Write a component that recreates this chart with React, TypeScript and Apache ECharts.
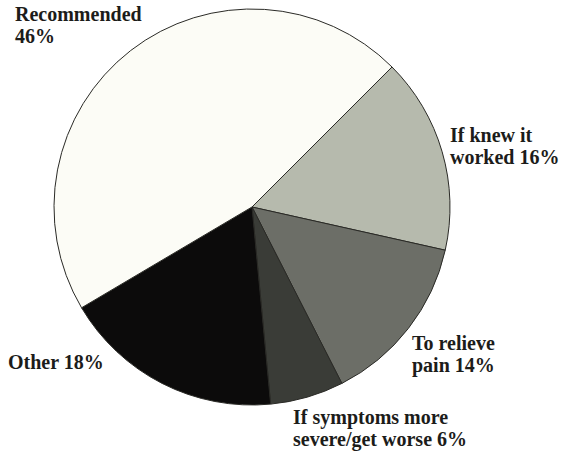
import React, { useEffect, useRef } from "react";
import * as echarts from "echarts";

// Reasons, listed clockwise from the upper-right edge of the pie
const categories = [
  "If knew it\nworked",
  "To relieve\npain",
  "If symptoms more\nsevere/get worse",
  "Other",
  "Recommended\n",
];
const shares = [16, 14, 6, 18, 46];
const sliceColors = ["#b6baad", "#6c6e67", "#3a3c37", "#0c0b0b", "#fcfcf6"];

// Label anchor points (top-left of each text block)
const labelAnchors: [number, number][] = [
  [450, 124],
  [412, 332],
  [293, 406],
  [8, 351],
  [15, 3],
];

export default function App() {
  const ref = useRef<HTMLDivElement>(null);

  useEffect(() => {
    document.body.style.margin = "0";
    const chart = echarts.init(ref.current!, null, { renderer: "svg" });
    chart.setOption({
      animation: false,
      backgroundColor: "#ffffff",
      series: [
        {
          type: "pie",
          center: [252, 207],
          radius: 198,
          startAngle: 45,
          clockwise: true,
          avoidLabelOverlap: false,
          data: categories.map((name, i) => ({
            name,
            value: shares[i],
            itemStyle: { color: sliceColors[i] },
          })),
          itemStyle: { borderColor: "#2a2a26", borderWidth: 1 },
          label: {
            show: true,
            position: "outside",
            formatter: (p: any) =>
              p.name.endsWith("\n") ? `${p.name}${p.value}%` : `${p.name} ${p.value}%`,
            fontFamily: "Liberation Serif",
            fontWeight: "bold",
            fontSize: 20,
            lineHeight: 22,
            color: "#1c1c1a",
            align: "left",
          },
          labelLine: { show: false },
          labelLayout: (params: any) => {
            const [x, y] = labelAnchors[params.dataIndex];
            return { x, y, align: "left", verticalAlign: "top" };
          },
          emphasis: { disabled: true },
        },
      ],
    });
    return () => chart.dispose();
  }, []);

  return <div ref={ref} style={{ width: 567, height: 452 }} />;
}
